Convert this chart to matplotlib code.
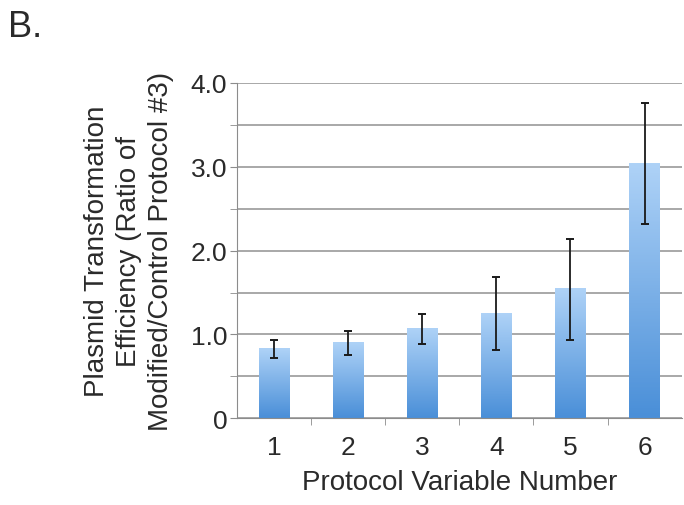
import numpy as np
import matplotlib
matplotlib.use('Agg')
import matplotlib.pyplot as plt
from matplotlib.colors import LinearSegmentedColormap

# data
protocols = [1, 2, 3, 4, 5, 6]
efficiency = [0.83, 0.90, 1.07, 1.25, 1.54, 3.04]
errors = [0.105, 0.14, 0.18, 0.44, 0.60, 0.72]
y_ticks = [0, 1.0, 2.0, 3.0, 4.0]
y_tick_labels = ['0', '1.0', '2.0', '3.0', '4.0']

plt.rcParams['font.family'] = ['Liberation Sans', 'DejaVu Sans']

fig = plt.figure(figsize=(6.84, 5.06), dpi=100)
ax = fig.add_axes([0.3465, 0.1713, 0.65, 0.6627])

grad = LinearSegmentedColormap.from_list('bar', ['#4a8fd8', '#aed2f7'])

bars = ax.bar(protocols, efficiency, width=0.41, color='none', zorder=2)
for b in bars:
    x0, w, h = b.get_x(), b.get_width(), b.get_height()
    img = np.linspace(0, 1, 100).reshape(-1, 1)
    ax.imshow(img, cmap=grad, origin='lower', aspect='auto',
              extent=[x0, x0 + w, 0, h], zorder=2)

ax.errorbar(protocols, efficiency, yerr=errors, fmt='none', ecolor='#1a1a1a',
            elinewidth=1.3, capsize=3.2, capthick=1.4, zorder=3)

ax.set_xlim(0.5, 6.5)
ax.set_ylim(0, 4.0)
ax.set_yticks(y_ticks)
ax.set_yticklabels(y_tick_labels)
ax.set_yticks(np.arange(0.5, 4.0, 1.0), minor=True)
ax.set_xticks(protocols)
ax.set_xticks(np.arange(1.5, 6.5, 1.0), minor=True)

ax.yaxis.grid(True, which='both', color='#9a9a9a', linewidth=1.2, zorder=0)
ax.set_axisbelow(True)

for side in ['top', 'right']:
    ax.spines[side].set_visible(False)
ax.spines['left'].set_color('#8c8c8c')
ax.spines['bottom'].set_color('#8c8c8c')

ax.tick_params(axis='y', which='both', length=5, color='#8c8c8c', labelsize=19,
               labelcolor='#2a2a2a', pad=2)
ax.tick_params(axis='x', which='major', length=0, labelsize=19,
               labelcolor='#2a2a2a', pad=12)
ax.tick_params(axis='x', which='minor', length=5, color='#8c8c8c')

ax.set_xlabel('Protocol Variable Number', fontsize=20, color='#2a2a2a', labelpad=7)
ax.set_ylabel('Plasmid Transformation\nEfficiency (Ratio of\nModified/Control Protocol #3)',
              fontsize=20, color='#2a2a2a', labelpad=12, linespacing=1.3)

fig.text(0.012, 0.927, 'B.', fontsize=26, color='#2a2a2a', va='baseline')

fig.savefig('out.png', dpi=100)
